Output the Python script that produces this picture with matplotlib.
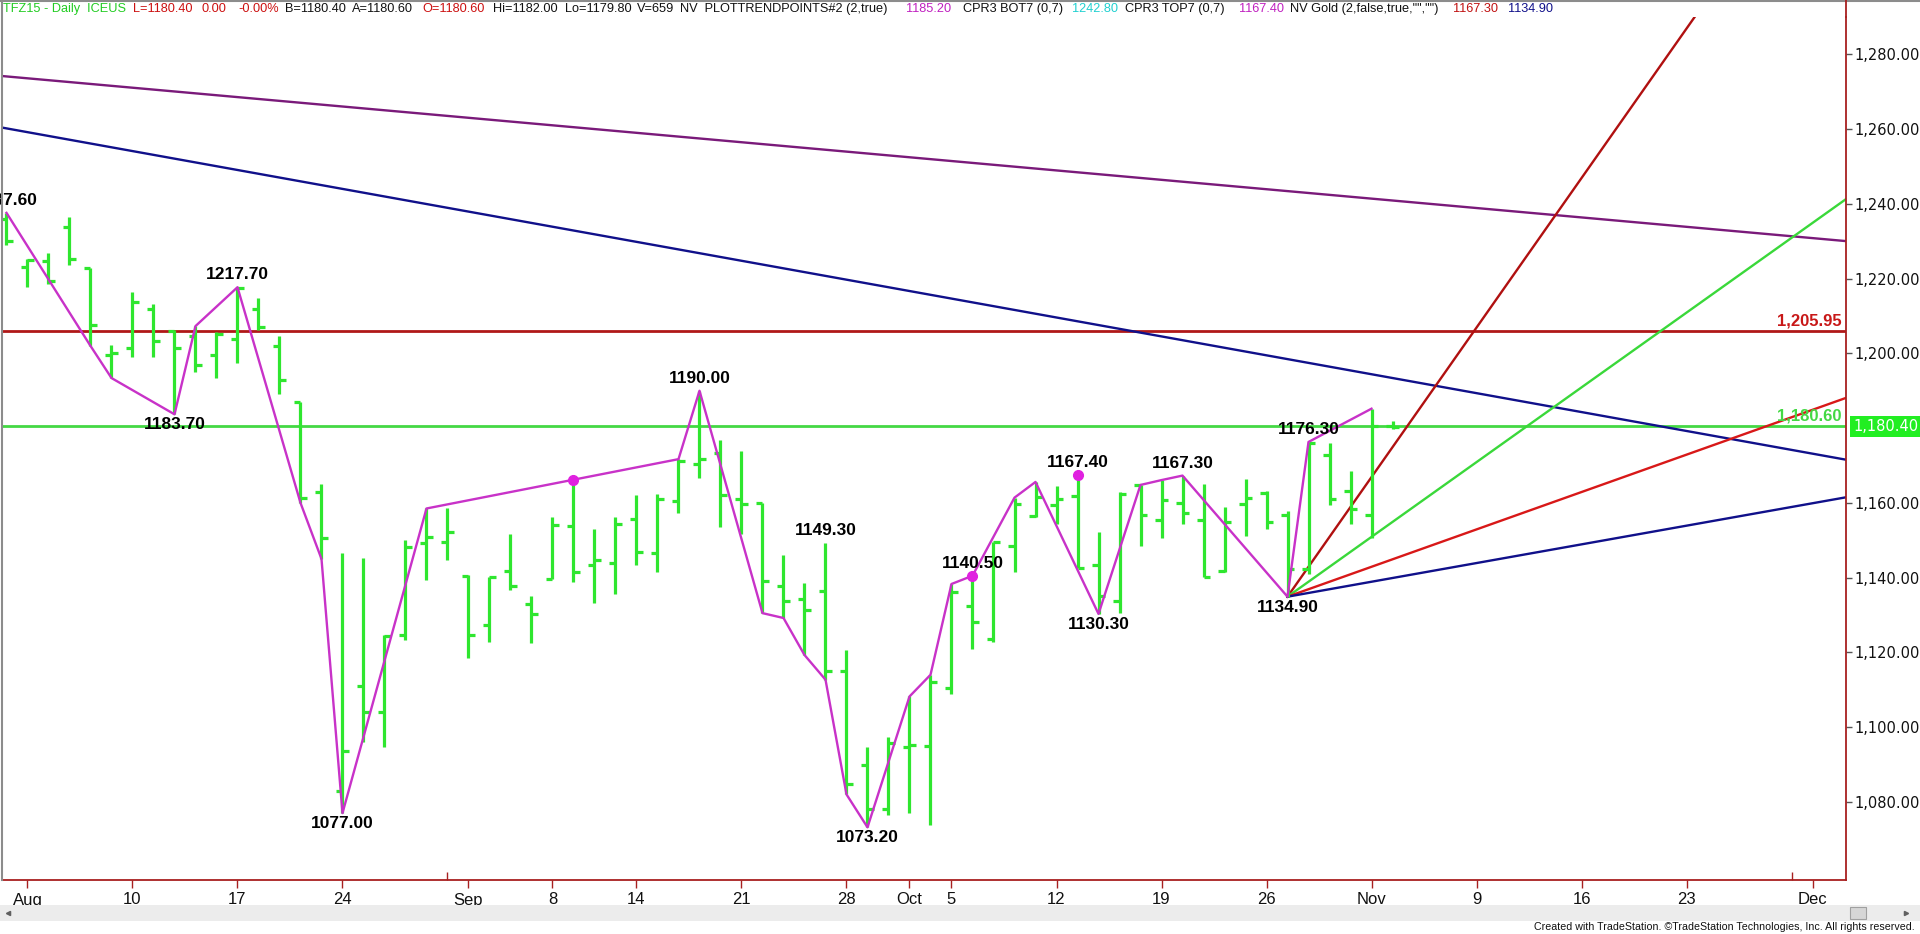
import numpy as np
import pandas as pd
import matplotlib
matplotlib.use('Agg')
import matplotlib.pyplot as plt
from matplotlib.lines import Line2D
from matplotlib.patches import Rectangle

# ---------------- data ----------------
# trading days, Labor Day skipped; the days after Nov 3 are projected space
days = pd.bdate_range('2015-07-31', '2015-12-04').drop(pd.Timestamp('2015-09-07'))

# daily OHLC, Jul 31 .. Nov 3 2015 (TFZ15)
opens = [1236.0, 1223.0, 1224.6, 1233.8, 1222.9, 1199.6, 1201.4, 1211.8, 1206.0, 1204.6,
         1199.5, 1203.8, 1212.0, 1202.0, 1187.0, 1163.0, 1082.8, 1111.0, 1104.0, 1124.7,
         1149.2, 1149.4, 1140.5, 1127.4, 1141.9, 1133.0, 1139.6, 1153.9, 1143.3, 1143.8,
         1155.8, 1146.6, 1160.6, 1170.4, 1173.4, 1161.1, 1160.0, 1137.7, 1134.4, 1136.3,
         1114.9, 1089.8, 1078.1, 1094.8, 1095.0, 1110.4, 1132.3, 1123.6, 1148.5, 1156.4,
         1159.4, 1161.9, 1143.3, 1133.8, 1164.7, 1155.3, 1160.0, 1155.5, 1141.8, 1159.7,
         1162.7, 1156.7, 1142.2, 1172.8, 1163.1, 1156.7, 1180.6]
highs = [1237.6, 1225.2, 1226.8, 1236.5, 1222.9, 1202.3, 1216.3, 1213.1, 1206.2, 1207.3,
         1205.7, 1217.7, 1214.9, 1204.6, 1187.1, 1165.0, 1146.6, 1145.2, 1124.7, 1150.0,
         1158.5, 1158.6, 1140.7, 1140.3, 1151.6, 1135.2, 1156.2, 1166.1, 1153.0, 1156.3,
         1162.2, 1162.4, 1171.7, 1190.0, 1176.7, 1173.9, 1160.0, 1146.1, 1138.5, 1149.3,
         1120.7, 1094.6, 1097.3, 1108.2, 1114.0, 1138.3, 1140.5, 1149.6, 1161.4, 1165.6,
         1164.5, 1167.4, 1152.2, 1162.8, 1164.8, 1166.1, 1167.3, 1165.0, 1158.9, 1166.3,
         1163.3, 1157.8, 1176.3, 1176.1, 1168.6, 1185.2, 1182.0]
lows = [1229.0, 1217.7, 1218.5, 1223.7, 1202.0, 1193.4, 1199.0, 1199.0, 1183.7, 1195.1,
        1193.4, 1197.3, 1206.2, 1189.0, 1160.0, 1145.0, 1077.0, 1095.9, 1094.8, 1123.2,
        1139.3, 1144.6, 1118.5, 1122.7, 1136.6, 1122.5, 1139.6, 1138.8, 1133.3, 1135.5,
        1143.3, 1141.4, 1157.4, 1166.7, 1153.5, 1151.6, 1130.5, 1129.2, 1119.3, 1112.7,
        1082.0, 1073.2, 1076.5, 1077.0, 1073.9, 1108.8, 1121.0, 1122.7, 1141.4, 1156.1,
        1154.4, 1142.5, 1130.3, 1130.5, 1148.5, 1150.5, 1154.4, 1140.3, 1141.6, 1151.1,
        1152.9, 1134.9, 1141.0, 1159.4, 1154.4, 1150.7, 1179.8]
closes = [1230.2, 1225.0, 1219.4, 1225.2, 1207.6, 1200.2, 1213.8, 1203.4, 1201.5, 1196.8,
          1205.3, 1217.5, 1207.1, 1192.9, 1161.3, 1150.5, 1093.5, 1104.0, 1124.4, 1148.1,
          1151.0, 1152.1, 1124.7, 1140.3, 1137.7, 1130.3, 1154.0, 1141.6, 1144.7, 1154.4,
          1146.9, 1161.1, 1171.1, 1171.7, 1162.0, 1159.7, 1139.1, 1133.8, 1131.4, 1114.9,
          1084.8, 1078.1, 1095.7, 1095.2, 1112.1, 1136.1, 1128.2, 1149.6, 1159.7, 1161.7,
          1161.1, 1142.7, 1135.0, 1162.4, 1156.7, 1160.8, 1157.4, 1140.3, 1155.0, 1161.4,
          1155.0, 1142.2, 1175.9, 1161.1, 1158.3, 1180.6, 1180.4]

# PLOTTRENDPOINTS zigzag: bar number and price of each vertex
zig_bar = [0, 4, 5, 8, 9, 11, 14, 15, 16, 20, 32, 33, 36, 37, 38, 39, 40, 41, 43, 44,
           45, 46, 48, 49, 52, 54, 55, 56, 61, 62, 65]
zig_price = [1237.6, 1202.0, 1193.4, 1183.7, 1207.3, 1217.7, 1160.0, 1145.0, 1077.0, 1158.5,
             1171.7, 1190.0, 1130.5, 1129.2, 1119.3, 1112.7, 1082.0, 1073.2, 1108.2, 1114.0,
             1138.3, 1140.5, 1161.4, 1165.6, 1130.3, 1164.8, 1166.1, 1167.3, 1134.9, 1176.3,
             1185.2]
dot_bar = [27, 46, 51]
dot_price = [1166.1, 1140.5, 1167.4]

# swing labels: bar, price, above(1)/below(-1)
lab_bar = [0, 11, 8, 16, 33, 39, 41, 46, 51, 52, 56, 61, 62]
lab_price = [1237.6, 1217.7, 1183.7, 1077.0, 1190.0, 1149.3, 1073.2, 1140.5, 1167.4, 1130.3,
             1167.3, 1134.9, 1176.3]
lab_side = [1, 1, -1, -1, 1, 1, -1, 1, 1, -1, 1, -1, 1]

# long trend lines: price at bar 0 and slope per bar
trend_start = [1274.1, 1260.2]
trend_slope = [-0.503, -1.012]
trend_color = ['#7a1a7a', '#10108a']

# Gann-style fan from the 1134.90 low
fan_bar = 61
fan_price = 1134.9
fan_slope = [8.0, 4.0, 2.0, 1.0]
fan_color = ['#b01010', '#3ad83a', '#d81818', '#10108a']

level_red = 1205.95
level_green = 1180.60
last_price = 1180.40

tick_dates = ['2015-08-03', '2015-08-10', '2015-08-17', '2015-08-24', '2015-09-01',
              '2015-09-08', '2015-09-14', '2015-09-21', '2015-09-28', '2015-10-01',
              '2015-10-05', '2015-10-12', '2015-10-19', '2015-10-26', '2015-11-02',
              '2015-11-09', '2015-11-16', '2015-11-23', '2015-12-01']
tick_labels = ['Aug', '10', '17', '24', 'Sep', '8', '14', '21', '28', 'Oct', '5', '12',
               '19', '26', 'Nov', '9', '16', '23', 'Dec']
minor_dates = ['2015-08-31', '2015-11-30']
price_ticks = [1080, 1100, 1120, 1140, 1160, 1200, 1220, 1240, 1260, 1280]

# ---------------- figure ----------------
W, H = 1920, 934
fig = plt.figure(figsize=(W / 100, H / 100), dpi=100)
fig.patch.set_facecolor('white')
ax = fig.add_axes([2 / W, (H - 880) / H, (1846 - 2) / W, (880 - 17) / H])

sans = 'Liberation Sans'
bar_green = '#2fe62f'
axis_red = '#a82020'

x_lo, x_hi = -0.214, 87.595
ax.set_xlim(x_lo, x_hi)
ax.set_ylim(1059.1, 1290.0)

pos = {d: i for i, d in enumerate(days)}
xb = np.arange(len(opens))

# OHLC bars
tk = 0.3
ax.vlines(xb, lows, highs, color=bar_green, lw=2.3, zorder=3)
ax.hlines(opens, xb - tk, xb, color=bar_green, lw=2.3, zorder=3)
ax.hlines(closes, xb, xb + tk, color=bar_green, lw=2.3, zorder=3)

# horizontal levels
ax.axhline(level_red, color='#b01818', lw=2.0, zorder=2)
ax.axhline(level_green, color='#44d844', lw=2.0, zorder=2)

# long trend lines
xs = np.array([x_lo, x_hi])
for s, m, c in zip(trend_start, trend_slope, trend_color):
    ax.plot(xs, s + m * xs, color=c, lw=1.7, zorder=2)

# fan lines
xf = np.array([fan_bar, x_hi])
for m, c in zip(fan_slope, fan_color):
    ax.plot(xf, fan_price + m * (xf - fan_bar), color=c, lw=1.7, zorder=2)

# zigzag and trend points
ax.plot(zig_bar, zig_price, color='#c832c8', lw=1.7, zorder=4)
ax.plot(dot_bar, dot_price, 'o', color='#e020e0', ms=7, zorder=5)

for b, p, s in zip(lab_bar, lab_price, lab_side):
    ax.annotate(f'{p:.2f}', (b, p), xytext=(0, 9 if s > 0 else -7.5),
                textcoords='offset points', ha='center', va='center',
                fontsize=12.5, fontweight='bold', family=sans,
                color='black', zorder=6, annotation_clip=False)

# level labels at the right edge
ax.annotate(f'{level_red:,.2f}', (x_hi, level_red), xytext=(-3, 7), textcoords='offset points',
            ha='right', va='center', fontsize=12, fontweight='bold',
            family=sans, color='#c81818')
ax.annotate(f'{level_green:,.2f}', (x_hi, level_green), xytext=(-3, 7), textcoords='offset points',
            ha='right', va='center', fontsize=12, fontweight='bold',
            family=sans, color='#44d844')

# axes styling
for side in ['top', 'left']:
    ax.spines[side].set_visible(False)
ax.spines['bottom'].set_color(axis_red)
ax.spines['right'].set_color(axis_red)
ax.spines['bottom'].set_linewidth(1.3)
ax.spines['right'].set_linewidth(1.3)

ax.yaxis.tick_right()
ax.set_yticks(price_ticks)
ax.set_yticklabels([f'{v:,.2f}' for v in price_ticks])
ax.tick_params(axis='y', length=4, width=1, color='#555555', pad=2,
               labelsize=10.5, labelcolor='#111111')
for t in ax.get_yticklabels():
    t.set_family('DejaVu Sans')

ax.set_xticks([pos[pd.Timestamp(d)] for d in tick_dates])
ax.set_xticklabels(tick_labels)
ax.set_xticks([pos[pd.Timestamp(d)] for d in minor_dates], minor=True)
ax.tick_params(axis='x', which='major', length=6, width=1, color=axis_red, pad=3,
               labelsize=12, labelcolor='#111111')
ax.tick_params(axis='x', which='minor', direction='in', length=6, width=1, color=axis_red)
for t in ax.get_xticklabels():
    t.set_family(sans)

# last price box on the axis
ax.annotate(f'{last_price:,.2f}', (x_hi, last_price), xytext=(5, 0), textcoords='offset points',
            ha='left', va='center', fontsize=10.5, family='DejaVu Sans', color='white',
            bbox=dict(boxstyle='square,pad=0.2', fc='#22ee22', ec='none'),
            annotation_clip=False, zorder=7)

# frame bits outside the axes
fig.add_artist(Line2D([2 / W, 2 / W], [(H - 880) / H, 1], color='#8c8c8c', lw=1.5))
fig.add_artist(Line2D([0, 1], [1 - 1 / H, 1 - 1 / H], color='#8c8c8c', lw=1.5))
fig.add_artist(Line2D([1846 / W, 1846 / W], [(H - 17) / H, 1], color=axis_red, lw=1.3))

# scroll bar strip
fig.add_artist(Rectangle((0, (H - 921) / H), 1, 16 / H, transform=fig.transFigure,
                         fc='#ececec', ec='none'))
fig.add_artist(Rectangle((1850 / W, (H - 919) / H), 16 / W, 12 / H, transform=fig.transFigure,
                         fc='#d6d6d6', ec='#a0a0a0', lw=0.8))
fig.add_artist(Line2D([8 / W], [(H - 913) / H], marker='<', ms=3, color='#606060', lw=0))
fig.add_artist(Line2D([1906 / W], [(H - 913) / H], marker='>', ms=3, color='#606060', lw=0))

# header line
header = [
    (3, 'TFZ15 - Daily  ICEUS', '#22cc22'),
    (133, 'L=1180.40', '#cc1010'),
    (201, '0.00', '#cc1010'),
    (238, '-0.00%', '#cc1010'),
    (285, 'B=1180.40', '#111111'),
    (352, 'A=1180.60', '#111111'),
    (422, 'O=1180.60', '#cc1010'),
    (493, 'Hi=1182.00', '#111111'),
    (565, 'Lo=1179.80', '#111111'),
    (637, 'V=659', '#111111'),
    (680, 'NV  PLOTTRENDPOINTS#2 (2,true)', '#111111'),
    (906, '1185.20', '#c020c0'),
    (963, 'CPR3 BOT7 (0,7)', '#111111'),
    (1072, '1242.80', '#20d0d0'),
    (1125, 'CPR3 TOP7 (0,7)', '#111111'),
    (1239, '1167.40', '#c020c0'),
    (1290, 'NV Gold (2,false,true,"","")', '#111111'),
    (1453, '1167.30', '#c01010'),
    (1508, '1134.90', '#10108a'),
]
for x, s, c in header:
    fig.text(x / W, (H - 9) / H, s, ha='left', va='center', fontsize=9.2,
             family=sans, color=c)

fig.text(1915 / W, (H - 927) / H,
         'Created with TradeStation. \u00a9TradeStation Technologies, Inc. All rights reserved.',
         ha='right', va='center', fontsize=7.7, family=sans, color='#111111')

fig.savefig('out.png', dpi=100, facecolor='white')
